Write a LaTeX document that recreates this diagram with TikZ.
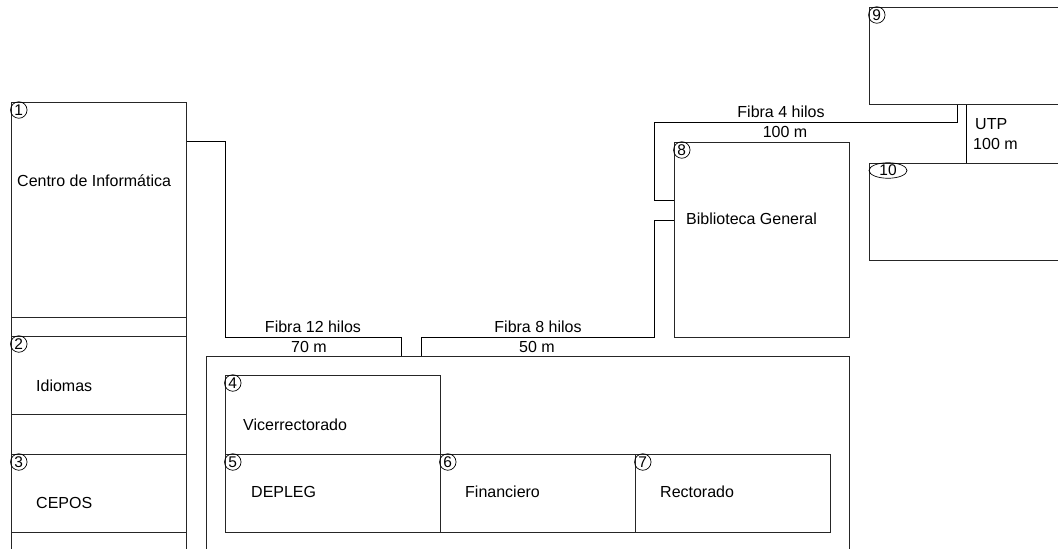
\documentclass[tikz,border=0pt]{standalone}
\usepackage{fontspec}
\setmainfont{Liberation Sans}
\usetikzlibrary{shapes.geometric}
\begin{document}
\begin{tikzpicture}[x=1pt,y=-1pt,
  box/.style={draw=black!85,line width=0.9pt,inner sep=0pt,anchor=north west},
  wire/.style={draw=black,line width=0.9pt},
  lbl/.style={inner sep=0pt,anchor=west,font=\fontsize{16}{19}\selectfont},
  clbl/.style={inner sep=0pt,anchor=center,font=\fontsize{16}{19}\selectfont},
  num/.style={draw,circle,line width=0.7pt,inner sep=0pt,minimum size=16.5pt,anchor=center,font=\fontsize{15.5}{17}\selectfont},
  numell/.style={draw,ellipse,line width=0.7pt,inner sep=0pt,minimum width=38pt,minimum height=15pt,anchor=center,font=\fontsize{15.5}{17}\selectfont}]
\useasboundingbox (0,0) rectangle (1058,549);
\fill[white] (0,0) rectangle (1058,549);
\clip (0,0) rectangle (1058,549);
% left column
\node[box,minimum width=175pt,minimum height=215pt] (b1) at (11,102) {};
\node[box,minimum width=175pt,minimum height=19pt] (g1) at (11,317) {};
\node[box,minimum width=175pt,minimum height=78pt] (b2) at (11,336) {};
\node[box,minimum width=175pt,minimum height=40pt] (g2) at (11,414) {};
\node[box,minimum width=175pt,minimum height=78pt] (b3) at (11,454) {};
\node[box,minimum width=175pt,minimum height=40pt] (g3) at (11,532) {};
% main building
\node[box,minimum width=643pt,minimum height=220pt] (outer) at (206,356) {};
\node[box,minimum width=215pt,minimum height=79pt] (b4) at (225,375) {};
\node[box,minimum width=215pt,minimum height=78pt] (b5) at (225,454) {};
\node[box,minimum width=195pt,minimum height=78pt] (b6) at (440,454) {};
\node[box,minimum width=195pt,minimum height=78pt] (b7) at (635,454) {};
% library
\node[box,minimum width=175pt,minimum height=195pt] (b8) at (674,142) {};
% right buildings
\node[box,minimum width=220pt,minimum height=97pt] (b9) at (869,7) {};
\node[box,minimum width=220pt,minimum height=97pt] (b10) at (869,163) {};
% numbers
\node[num] (n1) at ([shift={(7.8,8)}]b1.north west) {1};
\node[num] (n2) at ([shift={(7.8,8)}]b2.north west) {2};
\node[num] (n3) at ([shift={(7.8,8)}]b3.north west) {3};
\node[num] (n4) at ([shift={(7.8,8)}]b4.north west) {4};
\node[num] (n5) at ([shift={(7.8,8)}]b5.north west) {5};
\node[num] (n6) at ([shift={(7.8,8)}]b6.north west) {6};
\node[num] (n7) at ([shift={(7.8,8)}]b7.north west) {7};
\node[num] (n8) at ([shift={(7.8,8)}]b8.north west) {8};
\node[num] (n9) at ([shift={(7.8,8)}]b9.north west) {9};
\node[numell] (n10) at ([shift={(19,7.5)}]b10.north west) {10};
% names
\node[lbl] (t1) at (17,181) {Centro de Informática};
\node[lbl] (t2) at (36,386) {Idiomas};
\node[lbl] (t3) at (36,503) {CEPOS};
\node[lbl] (t4) at (243,425) {Vicerrectorado};
\node[lbl] (t5) at (251,492) {DEPLEG};
\node[lbl] (t6) at (465,492) {Financiero};
\node[lbl] (t7) at (660,492) {Rectorado};
\node[lbl] (t8) at (686,219) {Biblioteca General};
% connectors
\draw[wire] (b1.east |- 0,141) -- (225,141) -- (225,337) -- (401,337) -- (outer.north -| 401,0);
\draw[wire] (outer.north -| 421,0) -- (421,337) -- (654,337) -- (654,220) -- (b8.west |- 0,220);
\draw[wire] (b8.west |- 0,200) -- (654,200) -- (654,122) -- (957,122) -- (b9.south -| 957,0);
\draw[wire] (b9.south -| 966,0) -- (b10.north -| 966,0);
% connector labels
\node[clbl] (l1a) at (313,327) {Fibra 12 hilos};
\node[clbl] (l1b) at (309,347) {70 m};
\node[clbl] (l2a) at (538,327) {Fibra 8 hilos};
\node[clbl] (l2b) at (537,347) {50 m};
\node[clbl] (l3a) at (781,112) {Fibra 4 hilos};
\node[clbl] (l3b) at (785,132) {100 m};
\node[lbl] (l4a) at (975,124) {UTP};
\node[lbl] (l4b) at (973,144) {100 m};
\end{tikzpicture}
\end{document}
